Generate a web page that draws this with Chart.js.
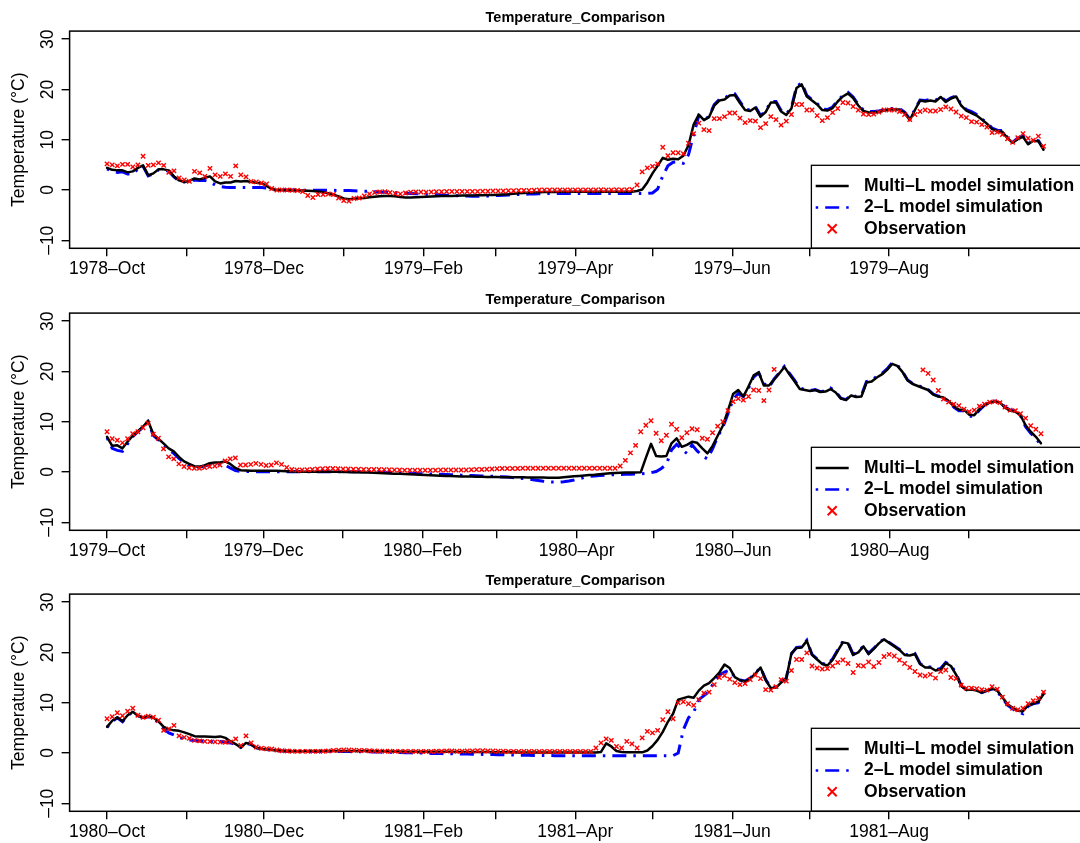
<!DOCTYPE html>
<html>
<head>
<meta charset="utf-8">
<script src="https://cdn.jsdelivr.net/npm/chart.js@4.4.1/dist/chart.umd.min.js"></script>
<style>
  html, body { margin: 0; padding: 0; background: #fff; }
  body { width: 1080px; height: 843px; overflow: hidden; position: relative; }
  .panel { position: absolute; left: 0; width: 1080px; height: 281px; overflow: hidden; }
  .panel canvas { display: block; }
</style>
</head>
<body>
<div class="panel" style="top:0px"><canvas id="c1" width="1100" height="281"></canvas></div>
<div class="panel" style="top:282px"><canvas id="c2" width="1100" height="281"></canvas></div>
<div class="panel" style="top:563px"><canvas id="c3" width="1100" height="281"></canvas></div>
<script>
const FONT = '"Liberation Sans", Arial, Helvetica, sans-serif';

const chartTitle = 'Temperature_Comparison';
const yAxisTitle = 'Temperature (°C)';
const seriesNames = ['Multi–L model simulation', '2–L model simulation', 'Observation'];
const yTickValues = [-10, 0, 10, 20, 30];
const yLimits = [-11.6, 31.6];

// Each panel is one water year starting on 1 October
const startYears = [1978, 1979, 1980];
const tickLabels1 = ['1978–Oct', '', '1978–Dec', '', '1979–Feb', '', '1979–Apr', '', '1979–Jun', '', '1979–Aug', ''];
const tickLabels2 = ['1979–Oct', '', '1979–Dec', '', '1980–Feb', '', '1980–Apr', '', '1980–Jun', '', '1980–Aug', ''];
const tickLabels3 = ['1980–Oct', '', '1980–Dec', '', '1981–Feb', '', '1981–Apr', '', '1981–Jun', '', '1981–Aug', ''];

// Values are given every second day of the water year (day 0 = 1 October)
const sampleDays = Array.from({ length: 183 }, (_, i) => 2 * i);

// ---- 1978/79 ----
const multi1 = [
  4.4, 4.0, 3.9, 3.9, 3.5, 3.7, 4.4, 4.9, 2.9, 3.3,
  4.1, 4.1, 3.9, 2.7, 1.9, 1.6, 1.8, 2.3, 2.1, 2.4,
  2.7, 1.7, 1.3, 1.5, 1.5, 1.8, 1.7, 1.8, 1.6, 1.45,
  1.35, 0.8, 0.2, 0.0, 0.0, -0.05, -0.05, -0.08, -0.1, -0.15,
  -0.2, -0.3, -0.45, -0.65, -0.95, -1.3, -1.7, -1.85, -1.75, -1.65,
  -1.6, -1.45, -1.35, -1.25, -1.2, -1.2, -1.25, -1.4, -1.5, -1.5,
  -1.45, -1.4, -1.35, -1.3, -1.25, -1.2, -1.2, -1.2, -1.15, -1.1,
  -1.1, -1.1, -1.05, -1.05, -1.0, -1.0, -0.95, -0.9, -0.85, -0.75,
  -0.65, -0.6, -0.55, -0.5, -0.45, -0.4, -0.4, -0.38, -0.35, -0.35,
  -0.35, -0.34, -0.34, -0.33, -0.33, -0.33, -0.33, -0.33, -0.33, -0.33,
  -0.33, -0.33, -0.33, -0.2, 0.1, 1.5, 3.3, 4.8, 6.4, 6.0,
  6.2, 6.1, 6.8, 8.9, 13.0, 15.0, 13.9, 14.5, 16.8, 17.8,
  18.0, 18.8, 18.9, 17.3, 15.9, 15.7, 16.4, 14.6, 15.5, 17.4,
  17.4, 15.6, 14.9, 16.2, 20.3, 21.0, 18.6, 17.8, 17.0, 15.9,
  15.8, 16.3, 17.6, 18.6, 19.2, 18.3, 16.8, 15.7, 15.4, 15.4,
  15.5, 15.8, 16.0, 16.0, 16.0, 15.3, 13.9, 15.9, 17.8, 17.6,
  17.8, 17.6, 18.5, 17.5, 18.2, 18.6, 16.8, 15.8, 15.3, 14.8,
  14.0, 13.2, 12.1, 11.7, 11.6, 10.3, 9.4, 10.1, 10.6, 9.1,
  9.8, 9.7, 8.0
];
const twoL1 = [
  4.2, 3.7, 3.5, 3.6, 3.2, 3.2, 4.2, 4.7, 2.8, 3.2,
  4.0, 4.0, 3.7, 2.6, 1.8, 1.6, 1.8, 2.0, 1.9, 1.9,
  1.6, 1.0, 0.7, 0.55, 0.5, 0.5, 0.5, 0.5, 0.5, 0.5,
  0.5, 0.4, 0.15, 0.0, 0.0, 0.0, 0.0, -0.05, -0.05, -0.05,
  -0.05, -0.05, -0.05, -0.05, -0.05, -0.1, -0.1, -0.1, -0.15, -0.2,
  -0.25, -0.3, -0.35, -0.4, -0.45, -0.5, -0.55, -0.6, -0.65, -0.7,
  -0.75, -0.8, -0.85, -0.9, -0.95, -1.0, -1.05, -1.1, -1.15, -1.2,
  -1.2, -1.25, -1.25, -1.2, -1.2, -1.15, -1.1, -1.05, -1.0, -0.95,
  -0.9, -0.85, -0.8, -0.8, -0.75, -0.7, -0.7, -0.7, -0.7, -0.7,
  -0.7, -0.7, -0.7, -0.7, -0.7, -0.7, -0.7, -0.7, -0.7, -0.7,
  -0.7, -0.7, -0.7, -0.7, -0.7, -0.65, -0.6, 0.2, 2.8, 4.8,
  5.5, 5.6, 5.3, 7.0, 11.0, 14.8, 14.0, 14.6, 17.0, 18.0,
  18.2, 19.0, 19.1, 17.6, 16.1, 15.9, 16.6, 14.8, 15.7, 17.6,
  17.6, 15.8, 15.1, 16.4, 20.6, 21.3, 18.8, 18.0, 17.2, 16.1,
  16.0, 16.5, 17.8, 18.8, 19.4, 18.5, 17.0, 15.9, 15.6, 15.6,
  15.7, 16.0, 16.2, 16.2, 16.2, 15.5, 14.1, 16.0, 17.9, 17.8,
  18.0, 17.8, 18.6, 17.7, 18.3, 18.7, 17.0, 16.0, 15.6, 15.0,
  14.1, 13.4, 12.3, 11.9, 11.8, 10.4, 9.5, 10.3, 10.7, 9.2,
  9.9, 9.8, 8.2
];
const obs1 = [
  5.2, 5.0, 4.8, 5.1, 5.1, 4.6, 5.0, 6.7, 4.9, 5.0,
  5.4, 4.9, 3.5, 3.8, 2.4, 2.0, 1.7, 3.7, 3.4, 2.7,
  4.3, 3.0, 2.7, 3.2, 2.7, 4.8, 3.0, 2.6, 1.7, 1.6,
  1.4, 1.2, 0.3, 0.0, 0.0, 0.0, -0.05, -0.1, -0.3, -1.1,
  -1.5, -0.9, -0.9, -0.8, -0.9, -1.6, -2.1, -2.2, -1.7, -1.6,
  -1.2, -0.8, -0.5, -0.4, -0.35, -0.5, -0.7, -0.8, -0.6, -0.45,
  -0.4, -0.4, -0.45, -0.4, -0.35, -0.35, -0.3, -0.3, -0.3, -0.3,
  -0.3, -0.3, -0.3, -0.25, -0.25, -0.2, -0.2, -0.2, -0.15, -0.15,
  -0.1, -0.1, -0.1, -0.05, 0.0, 0.0, 0.0, 0.0, 0.0, 0.0,
  0.0, 0.0, 0.0, 0.0, 0.0, 0.0, 0.05, 0.0, 0.0, 0.05,
  0.0, 0.05, 0.1, 1.0, 3.6, 4.4, 4.7, 5.2, 8.5, 6.8,
  7.4, 7.4, 7.2, 9.3, 11.2, 13.3, 12.0, 11.8, 14.2, 14.2,
  14.6, 15.3, 15.3, 14.3, 13.4, 13.8, 13.7, 12.4, 13.2, 14.6,
  14.0, 12.9, 13.7, 15.0, 17.0, 17.0, 15.9, 15.9, 14.8, 13.8,
  14.4, 15.4, 16.2, 17.4, 17.3, 16.6, 15.9, 15.1, 15.0, 15.1,
  15.5, 15.9, 15.9, 15.9, 15.6, 15.0, 14.0, 15.0, 15.6, 15.9,
  15.7, 15.7, 16.0, 16.5, 16.1, 15.5, 14.7, 14.4, 13.6, 13.5,
  13.0, 12.5, 11.4, 11.5, 11.0, 10.2, 9.5, 10.4, 11.2, 10.3,
  9.9, 10.7, 8.7
];

// ---- 1979/80 ----
const multi2 = [
  7.0, 5.2, 5.3, 4.7, 6.0, 7.2, 8.1, 9.0, 10.2, 7.5,
  6.6, 5.7, 4.7, 4.1, 3.0, 2.1, 1.6, 1.15, 1.05, 1.3,
  1.75, 1.9, 1.9, 2.1, 1.6, 0.8, 0.35, 0.3, 0.26, 0.26,
  0.26, 0.26, 0.26, 0.26, 0.2, 0.15, 0.1, 0.07, 0.07, 0.07,
  0.07, 0.07, 0.07, 0.07, 0.05, 0.03, 0.0, 0.0, -0.03, -0.05,
  -0.08, -0.12, -0.17, -0.22, -0.27, -0.3, -0.33, -0.37, -0.4, -0.44,
  -0.5, -0.55, -0.6, -0.65, -0.7, -0.75, -0.8, -0.82, -0.85, -0.88,
  -0.9, -0.92, -0.94, -0.96, -0.98, -1.0, -1.02, -1.03, -1.04, -1.05,
  -1.06, -1.07, -1.08, -1.08, -1.1, -1.12, -1.14, -1.15, -1.13, -1.05,
  -0.95, -0.85, -0.78, -0.7, -0.62, -0.55, -0.45, -0.35, -0.27, -0.2,
  -0.15, -0.12, -0.1, -0.08, -0.07, 2.8, 5.6, 3.2, 3.1, 3.2,
  5.7, 6.7, 5.0, 5.4, 6.0, 5.8, 4.7, 3.7, 5.2, 7.2,
  9.2, 12.2, 15.5, 16.3, 15.0, 17.0, 19.2, 19.8, 17.2, 17.2,
  18.4, 19.6, 20.9, 19.4, 18.0, 16.5, 16.3, 16.1, 16.3, 15.9,
  16.0, 16.5, 15.8, 14.6, 14.3, 15.2, 14.9, 15.0, 17.8, 18.0,
  18.8, 19.4, 20.3, 21.5, 21.1, 19.9, 18.2, 17.5, 17.1, 16.7,
  16.3, 15.4, 15.0, 14.8, 14.1, 13.1, 12.4, 12.4, 11.4, 11.3,
  12.5, 13.3, 13.8, 14.0, 13.8, 12.8, 12.2, 12.0, 11.3, 9.3,
  8.0, 7.0, 5.7
];
const twoL2 = [
  6.8, 4.7, 4.3, 4.1, 5.6, 7.0, 8.0, 8.9, 10.0, 7.3,
  6.4, 5.4, 4.4, 3.7, 2.7, 1.9, 1.4, 1.0, 0.95, 1.2,
  1.5, 1.6, 1.6, 1.4, 0.8, 0.3, 0.1, 0.08, 0.08, 0.07,
  0.07, 0.07, 0.06, 0.06, 0.06, 0.06, 0.05, 0.05, 0.05, 0.05,
  0.05, 0.05, 0.05, 0.05, 0.05, 0.05, 0.05, 0.05, 0.05, 0.05,
  0.05, 0.03, 0.0, -0.03, -0.07, -0.1, -0.15, -0.2, -0.25, -0.28,
  -0.3, -0.33, -0.36, -0.4, -0.43, -0.46, -0.5, -0.55, -0.6, -0.63,
  -0.66, -0.7, -0.74, -0.78, -0.82, -0.86, -0.9, -0.95, -1.0, -1.1,
  -1.2, -1.3, -1.4, -1.55, -1.7, -1.85, -1.95, -2.0, -2.0, -1.95,
  -1.8, -1.6, -1.35, -1.1, -0.9, -0.78, -0.7, -0.63, -0.58, -0.53,
  -0.5, -0.47, -0.45, -0.42, -0.38, -0.3, -0.15, 0.1, 0.7, 1.5,
  4.4, 5.5, 4.5, 3.7, 5.4, 4.2, 3.2, 2.6, 4.6, 7.0,
  8.9, 11.6, 14.4, 15.6, 15.0, 16.6, 18.9, 19.7, 17.6, 16.8,
  18.5, 19.7, 21.0, 19.6, 18.2, 16.7, 16.4, 16.2, 16.4, 16.0,
  16.1, 16.7, 16.0, 14.7, 14.4, 15.3, 15.0, 15.2, 18.0, 18.2,
  19.0, 19.6, 20.5, 21.7, 21.3, 20.0, 18.3, 17.6, 17.2, 16.8,
  16.4, 15.5, 15.1, 14.9, 14.0, 12.9, 12.2, 12.2, 11.1, 11.1,
  12.3, 13.3, 13.8, 14.1, 13.9, 12.9, 12.3, 12.1, 11.2, 9.0,
  7.7, 6.7, 5.3
];
const obs2 = [
  8.0, 6.6, 6.3, 5.8, 6.6, 7.6, 8.0, 8.8, 9.7, 7.5,
  6.7, 4.6, 3.0, 2.6, 1.6, 1.1, 0.85, 0.75, 0.73, 0.9,
  1.1, 1.2, 1.4, 2.2, 2.6, 2.8, 1.4, 1.4, 1.5, 1.7,
  1.5, 1.3, 1.4, 1.8, 1.5, 0.9, 0.5, 0.4, 0.4, 0.45,
  0.5, 0.6, 0.65, 0.7, 0.7, 0.65, 0.6, 0.6, 0.55, 0.55,
  0.5, 0.5, 0.5, 0.5, 0.45, 0.45, 0.4, 0.4, 0.35, 0.35,
  0.35, 0.35, 0.35, 0.35, 0.35, 0.4, 0.4, 0.4, 0.4, 0.4,
  0.4, 0.45, 0.5, 0.5, 0.55, 0.6, 0.65, 0.7, 0.7, 0.7,
  0.7, 0.75, 0.75, 0.75, 0.75, 0.75, 0.75, 0.75, 0.75, 0.75,
  0.75, 0.75, 0.75, 0.75, 0.75, 0.75, 0.75, 0.75, 0.75, 0.75,
  1.2, 2.3, 3.8, 5.3, 8.0, 9.3, 10.2, 7.7, 6.2, 7.3,
  9.5, 8.5, 6.8, 7.8, 8.6, 8.4, 6.7, 6.5, 7.8, 9.1,
  10.0, 12.2, 14.0, 14.6, 14.3, 15.0, 16.3, 16.2, 14.2, 16.3,
  20.4, null, null, null, null, null, null, null, null, null,
  null, null, null, null, null, null, null, null, null, null,
  null, null, null, null, null, null, null, null, null, 20.3,
  19.6, 18.3, 16.2, 14.5, 13.9, 13.5, 13.2, 12.5, 12.0, 12.3,
  13.1, 13.5, 13.9, 14.0, 13.8, 12.9, 12.3, 12.2, 11.6, 10.7,
  9.2, 8.5, 7.6
];

// ---- 1980/81 ----
const multi3 = [
  5.2, 6.4, 7.1, 6.3, 7.5, 8.2, 7.4, 7.0, 7.3, 7.0,
  6.3, 5.2, 4.7, 4.5, 4.4, 4.1, 3.75, 3.35, 3.3, 3.3,
  3.25, 3.2, 3.3, 3.0, 2.3, 1.75, 1.1, 2.0, 1.7, 1.05,
  0.8, 0.7, 0.6, 0.5, 0.42, 0.38, 0.35, 0.33, 0.35, 0.37,
  0.38, 0.4, 0.4, 0.4, 0.4, 0.4, 0.4, 0.4, 0.4, 0.4,
  0.4, 0.38, 0.36, 0.34, 0.32, 0.3, 0.28, 0.27, 0.26, 0.26,
  0.25, 0.25, 0.24, 0.24, 0.23, 0.23, 0.22, 0.22, 0.21, 0.2,
  0.2, 0.19, 0.18, 0.18, 0.17, 0.16, 0.15, 0.14, 0.13, 0.12,
  0.11, 0.1, 0.1, 0.1, 0.1, 0.1, 0.1, 0.1, 0.1, 0.1,
  0.1, 0.1, 0.1, 0.1, 0.1, 0.1, 0.2, 1.9, 1.3, 0.4,
  0.2, 0.13, 0.13, 0.13, 0.13, 0.5, 1.4, 2.6, 4.2, 6.2,
  7.8, 10.6, 10.9, 11.2, 11.0, 12.4, 13.4, 13.9, 14.9, 16.0,
  17.6, 16.9, 15.1, 14.5, 14.2, 14.8, 15.8, 17.0, 14.5, 12.9,
  13.0, 14.0, 14.8, 19.8, 20.9, 21.0, 22.3, 19.5, 18.6, 17.7,
  17.4, 18.5, 20.3, 22.0, 21.8, 19.5, 20.0, 21.2, 19.7, 20.7,
  21.8, 22.6, 21.9, 21.2, 20.5, 19.5, 19.4, 19.7, 17.7, 17.0,
  17.0, 16.4, 16.6, 17.9, 17.3, 15.6, 13.3, 12.5, 12.6, 12.4,
  12.0, 12.4, 12.8, 12.4, 11.1, 9.7, 9.0, 8.4, 8.3, 9.5,
  9.8, 10.2, 11.7
];
const twoL3 = [
  5.1, 6.3, 7.0, 6.2, 7.4, 8.2, 7.4, 7.0, 7.2, 6.9,
  6.0, 4.8, 4.0, 3.6, 3.1, 2.8, 2.6, 2.5, 2.4, 2.3,
  2.3, 2.3, 2.3, 2.2, 2.0, 1.7, 1.1, 1.9, 1.7, 1.0,
  0.8, 0.65, 0.55, 0.45, 0.4, 0.35, 0.33, 0.32, 0.3, 0.3,
  0.3, 0.3, 0.3, 0.3, 0.28, 0.28, 0.27, 0.27, 0.26, 0.26,
  0.25, 0.22, 0.2, 0.18, 0.15, 0.12, 0.1, 0.08, 0.05, 0.03,
  0.0, -0.02, -0.05, -0.08, -0.1, -0.12, -0.15, -0.17, -0.19, -0.2,
  -0.22, -0.24, -0.26, -0.28, -0.3, -0.32, -0.34, -0.36, -0.38, -0.4,
  -0.42, -0.44, -0.46, -0.48, -0.5, -0.51, -0.52, -0.53, -0.53, -0.53,
  -0.53, -0.53, -0.53, -0.53, -0.53, -0.53, -0.53, -0.53, -0.53, -0.53,
  -0.53, -0.53, -0.53, -0.53, -0.53, -0.53, -0.53, -0.53, -0.53, -0.53,
  -0.53, 0.0, 4.6, 7.0, 8.1, 10.6, 11.4, 12.2, 14.2, 15.5,
  16.1, 16.5, 15.1, 14.5, 14.3, 14.9, 15.9, 17.0, 14.6, 13.0,
  13.1, 14.1, 14.9, 19.7, 21.0, 21.1, 22.4, 19.6, 18.7, 17.8,
  17.6, 18.7, 20.5, 22.2, 21.9, 19.6, 20.1, 21.3, 19.8, 20.8,
  21.9, 22.7, 22.0, 21.3, 20.6, 19.6, 19.5, 19.8, 17.8, 17.1,
  17.1, 16.5, 16.8, 18.0, 17.5, 15.8, 13.4, 12.6, 12.7, 12.5,
  12.0, 12.4, 12.7, 12.2, 10.9, 9.5, 8.8, 8.1, 7.8, 9.3,
  9.8, 10.0, 11.9
];
const obs3 = [
  6.8, 7.2, 8.0, 7.4, 8.3, 8.9, 7.5, 7.1, 7.3, 7.1,
  6.5, 4.5, 4.8, 5.5, 3.4, 3.1, 2.9, 2.5, 2.4, 2.3,
  2.25, 2.2, 2.15, 2.1, 2.2, 2.8, 1.5, 3.4, 2.0, 1.2,
  0.95, 0.85, 0.8, 0.6, 0.45, 0.4, 0.35, 0.33, 0.33, 0.33,
  0.33, 0.33, 0.35, 0.4, 0.5, 0.55, 0.6, 0.6, 0.55, 0.53,
  0.5, 0.45, 0.4, 0.38, 0.35, 0.35, 0.33, 0.33, 0.33, 0.33,
  0.3, 0.3, 0.3, 0.3, 0.35, 0.35, 0.4, 0.4, 0.35, 0.35,
  0.4, 0.4, 0.45, 0.45, 0.4, 0.4, 0.35, 0.35, 0.3, 0.3,
  0.3, 0.3, 0.3, 0.3, 0.3, 0.3, 0.3, 0.3, 0.3, 0.3,
  0.3, 0.3, 0.3, 0.3, 0.3, 1.0, 2.0, 2.8, 2.5, 1.3,
  1.0, 2.3, 1.8, 1.0, 3.0, 4.3, 4.0, 4.5, 6.6, 8.2,
  6.8, 10.0, 10.2, 9.8, 9.5, 10.6, 11.9, 12.1, 13.6, 15.0,
  15.4, 14.7, 14.0, 13.6, 13.8, 14.6, 15.5, 14.8, 12.6, 12.5,
  13.2, 14.6, 14.3, 16.4, 18.6, 18.6, 19.9, 17.3, 16.9, 16.7,
  16.8, 17.3, 18.0, 18.5, 17.8, 16.0, 17.4, 17.3, 18.1, 17.2,
  18.0, 19.2, 19.6, 19.3, 18.5, 17.8, 17.0, 16.2, 15.5, 15.3,
  15.6, 14.9, 16.2, 16.5, 15.0, 14.8, 13.5, 12.9, 12.9, 12.8,
  12.6, 12.5, 13.2, 12.7, 11.1, 9.8, 8.9, 8.6, 8.9, 9.8,
  10.4, 10.9, 12.1
];

const panels = [
  { canvas: 'c1', year: startYears[0], tickLabels: tickLabels1, multi: multi1, twoL: twoL1, obs: obs1 },
  { canvas: 'c2', year: startYears[1], tickLabels: tickLabels2, multi: multi2, twoL: twoL2, obs: obs2 },
  { canvas: 'c3', year: startYears[2], tickLabels: tickLabels3, multi: multi3, twoL: twoL3, obs: obs3 }
];

const DAY_MS = 86400000;
function monthStartDays(year) {
  const t0 = Date.UTC(year, 9, 1);
  const out = [];
  for (let k = 0; k < 12; k++) out.push((Date.UTC(year, 9 + k, 1) - t0) / DAY_MS);
  return out;
}
function waterYearLength(year) {
  return (Date.UTC(year + 1, 9, 1) - Date.UTC(year, 9, 1)) / DAY_MS;
}
function toPoints(values) {
  return values.map((v, i) => ({ x: sampleDays[i], y: v }));
}

// Legend box in the lower right corner of the plotting region
const boxLegend = {
  id: 'boxLegend',
  afterDraw(chart) {
    const { ctx, chartArea: a } = chart;
    const sets = chart.data.datasets;
    ctx.save();
    ctx.font = 'bold 17.5px ' + FONT;
    const textW = Math.max(...sets.map(d => ctx.measureText(d.label).width));
    const boxW = textW + 59.6, boxH = 83;
    const left = a.right - boxW, top = a.bottom - boxH;
    ctx.fillStyle = '#fff';
    ctx.fillRect(left, top, boxW, boxH);
    ctx.lineWidth = 1.3;
    ctx.strokeStyle = '#000';
    ctx.strokeRect(left, top, boxW, boxH);
    sets.forEach((ds, i) => {
      const y = top + 20.7 + i * 21.4;
      if (ds.showLine === false) {
        const cx = left + 20.8, r = 4.5;
        ctx.strokeStyle = ds.pointBorderColor;
        ctx.lineWidth = 2;
        ctx.setLineDash([]);
        ctx.beginPath();
        ctx.moveTo(cx - r, y - r); ctx.lineTo(cx + r, y + r);
        ctx.moveTo(cx - r, y + r); ctx.lineTo(cx + r, y - r);
        ctx.stroke();
      } else {
        ctx.strokeStyle = ds.borderColor;
        ctx.lineWidth = 2.5;
        ctx.setLineDash(ds.borderDash || []);
        ctx.lineCap = 'butt';
        ctx.beginPath();
        ctx.moveTo(left + 4.3, y);
        ctx.lineTo(left + 37.3, y);
        ctx.stroke();
        ctx.setLineDash([]);
      }
      ctx.fillStyle = '#000';
      ctx.textBaseline = 'middle';
      ctx.textAlign = 'left';
      ctx.fillText(ds.label, left + 52.7, y);
    });
    ctx.restore();
  }
};

// Box around the plotting region
const plotFrame = {
  id: 'plotFrame',
  afterDraw(chart) {
    const { ctx, chartArea: a } = chart;
    ctx.save();
    ctx.strokeStyle = '#000';
    ctx.lineWidth = 1.5;
    ctx.strokeRect(a.left, a.top, a.right - a.left, a.bottom - a.top);
    ctx.restore();
  }
};

panels.forEach(p => {
  const last = waterYearLength(p.year) - 1;
  const tickDays = monthStartDays(p.year);
  new Chart(document.getElementById(p.canvas), {
    type: 'line',
    data: {
      datasets: [
        {
          label: seriesNames[0], data: toPoints(p.multi),
          borderColor: '#000000', borderWidth: 2.5, pointRadius: 0, tension: 0,
          borderJoinStyle: 'round', borderCapStyle: 'round', fill: false, order: 2
        },
        {
          label: seriesNames[1], data: toPoints(p.twoL),
          borderColor: '#0000FF', borderWidth: 3, borderDash: [2.5, 7, 14, 7], pointRadius: 0, tension: 0,
          borderCapStyle: 'butt', fill: false, order: 3
        },
        {
          label: seriesNames[2], data: toPoints(p.obs), showLine: false,
          pointStyle: 'crossRot', pointRadius: 3.1, pointBorderWidth: 1.4,
          pointBorderColor: '#FF0000', pointBackgroundColor: '#FF0000', order: 1
        }
      ]
    },
    options: {
      responsive: false,
      animation: false,
      devicePixelRatio: 1,
      events: [],
      layout: { padding: { left: 0, right: 19, top: 0, bottom: 0 } },
      plugins: {
        legend: { display: false },
        tooltip: { enabled: false },
        title: {
          display: true, text: chartTitle, fullSize: false, color: '#000',
          font: { family: FONT, size: 14.5, weight: 'bold', lineHeight: 1.2 },
          padding: { top: 8.8, bottom: 4.9 }
        }
      },
      scales: {
        x: {
          type: 'linear',
          min: -0.04 * last, max: 1.04 * last,
          border: { display: false },
          grid: { drawOnChartArea: false, drawTicks: true, tickLength: 8, color: '#000', lineWidth: 1.4 },
          ticks: {
            autoSkip: false, maxRotation: 0, minRotation: 0, padding: 2, color: '#000',
            font: { family: FONT, size: 17.5 },
            callback: (v, i) => p.tickLabels[i]
          },
          afterBuildTicks: s => { s.ticks = tickDays.map(v => ({ value: v })); },
          afterFit: s => { s.height = 32.7; }
        },
        y: {
          type: 'linear',
          min: yLimits[0], max: yLimits[1],
          border: { display: false },
          grid: { drawOnChartArea: false, drawTicks: true, tickLength: 8, color: '#000', lineWidth: 1.4 },
          ticks: {
            autoSkip: false, minRotation: 90, maxRotation: 90, crossAlign: 'center', padding: -1, color: '#000',
            font: { family: FONT, size: 17.5 },
            callback: v => (v < 0 ? '–' + Math.abs(v) : String(v))
          },
          title: {
            display: true, text: yAxisTitle, color: '#000',
            font: { family: FONT, size: 17.5 }, padding: { top: 8.5, bottom: 0 }
          },
          afterBuildTicks: s => { s.ticks = yTickValues.map(v => ({ value: v })); },
          afterFit: s => { s.width = 69.6; }
        }
      }
    },
    plugins: [boxLegend, plotFrame]
  });
});
</script>
</body>
</html>
